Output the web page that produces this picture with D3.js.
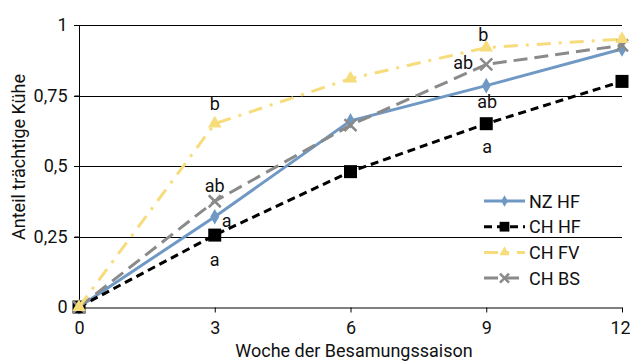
<!DOCTYPE html>
<html>
<head>
<meta charset="utf-8">
<script src="https://cdn.jsdelivr.net/npm/d3@7"></script>
<style>
  body { margin: 0; background: #fff; }
  svg { font-family: Roboto, "Noto Sans", sans-serif; }
</style>
</head>
<body>
<div id="root"></div>
<script>
const weeks = [0, 3, 6, 9, 12];
const yTicks = [0, 0.25, 0.5, 0.75, 1];
const yTickLabels = ["0", "0,25", "0,5", "0,75", "1"];

const nzHF = [0, 0.32, 0.66, 0.785, 0.915];
const chHF = [0, 0.255, 0.48, 0.65, 0.80];
const chFV = [0, 0.65, 0.81, 0.92, 0.95];
const chBS = [0, 0.375, 0.645, 0.86, 0.928];

const seriesNames = ["NZ HF", "CH HF", "CH FV", "CH BS"];

// Buchstaben (Signifikanz) an Woche 3 und 9
const letters = [
  { week: 3, value: 0.65, text: "b", dx: 0, dy: -14 },
  { week: 3, value: 0.375, text: "ab", dx: 0, dy: -9 },
  { week: 3, value: 0.32, text: "a", dx: 12, dy: 10 },
  { week: 3, value: 0.255, text: "a", dx: 0, dy: 31 },
  { week: 9, value: 0.92, text: "b", dx: -3, dy: -7 },
  { week: 9, value: 0.86, text: "ab", dx: -23, dy: 5 },
  { week: 9, value: 0.785, text: "ab", dx: 1, dy: 22 },
  { week: 9, value: 0.65, text: "a", dx: 1, dy: 29 }
];

const width = 630;
const height = 362;
const margin = { left: 79, right: 8, top: 25, bottom: 55 };
const fontSize = 18;

const svg = d3.select("#root")
  .append("svg")
    .attr("width", width)
    .attr("height", height);

const x = d3.scaleLinear()
  .domain([0, 12])
  .range([margin.left, width - margin.right]);

const y = d3.scaleLinear()
  .domain([0, 1])
  .range([height - margin.bottom, margin.top]);

// Gitterlinien
svg.append("g")
  .selectAll("line")
  .data(yTicks.slice(1))
  .enter()
  .append("line")
    .attr("x1", margin.left - 5)
    .attr("x2", x(12))
    .attr("y1", d => Math.round(y(d)) + 0.5)
    .attr("y2", d => Math.round(y(d)) + 0.5)
    .attr("stroke", "#000")
    .attr("stroke-width", 1);

// Achsen
const yAxis = svg.append("g")
  .attr("transform", `translate(${margin.left + 0.5},0)`)
  .call(d3.axisLeft(y).tickValues(yTicks).tickFormat((d, i) => yTickLabels[i]).tickSize(5).tickPadding(7));
yAxis.select(".domain").attr("d", `M0,${y(1)}V${y(0)}`);

const xAxis = svg.append("g")
  .attr("transform", `translate(0,${Math.round(y(0)) + 0.5})`)
  .call(d3.axisBottom(x).tickValues(weeks).tickSize(5).tickSizeOuter(0).tickPadding(9));
// "12" am rechten Rand etwas einrücken
xAxis.selectAll(".tick text").filter(d => d === 12).attr("dx", -2);

svg.selectAll(".tick text")
  .attr("font-size", fontSize)
  .attr("font-family", "Roboto, sans-serif")
  .attr("fill", "#111");
svg.selectAll(".domain, .tick line").attr("stroke", "#000");

// Achsentitel
svg.append("text")
  .text("Woche der Besamungssaison")
  .attr("x", 354)
  .attr("y", 357)
  .attr("text-anchor", "middle")
  .attr("font-size", fontSize)
  .attr("fill", "#111");
svg.append("text")
  .text("Anteil trächtige Kühe")
  .attr("transform", `translate(25, 157)rotate(-90)`)
  .attr("text-anchor", "middle")
  .attr("font-size", fontSize)
  .attr("fill", "#111");

const styles = [
  { values: nzHF, color: "#6f98c4", dash: null, marker: "diamond" },
  { values: chHF, color: "#000000", dash: "8,5", marker: "square" },
  { values: chFV, color: "#f7dc7c", dash: "14,8,3,8", marker: "triangle" },
  { values: chBS, color: "#8a8a8a", dash: "14,7", marker: "cross" }
];

const lineCreator = d3.line()
  .x((d, i) => x(weeks[i]))
  .y(d => y(d));

function drawMarker(g, type, cx, cy, color, scale) {
  const s = scale || 1;
  if (type === "diamond") {
    g.append("path")
      .attr("d", d3.symbol(d3.symbolDiamond, 70 * s * s)())
      .attr("transform", `translate(${cx},${cy})`)
      .attr("fill", color);
  } else if (type === "square") {
    const a = 13 * s;
    g.append("rect")
      .attr("x", cx - a / 2).attr("y", cy - a / 2)
      .attr("width", a).attr("height", a)
      .attr("fill", color);
  } else if (type === "triangle") {
    g.append("path")
      .attr("d", d3.symbol(d3.symbolTriangle, 80 * s * s)())
      .attr("transform", `translate(${cx},${cy})`)
      .attr("fill", color);
  } else if (type === "cross") {
    const a = 6 * s;
    g.append("path")
      .attr("d", `M${cx - a},${cy - a}L${cx + a},${cy + a}M${cx - a},${cy + a}L${cx + a},${cy - a}`)
      .attr("stroke", color)
      .attr("stroke-width", 2.5)
      .attr("fill", "none");
  }
}

// Linien + Marker (CH FV zuletzt, damit das Dreieck bei 0 oben liegt)
const drawOrder = [0, 1, 3, 2];
drawOrder.forEach(k => {
  const st = styles[k];
  const g = svg.append("g");
  g.append("path")
    .datum(st.values)
    .attr("d", lineCreator)
    .attr("fill", "none")
    .attr("stroke", st.color)
    .attr("stroke-width", 3)
    .attr("stroke-dasharray", st.dash);
  st.values.forEach((v, i) => drawMarker(g, st.marker, x(weeks[i]), y(v), st.color));
});

// Buchstaben
svg.append("g")
  .selectAll("text")
  .data(letters)
  .enter()
  .append("text")
    .text(d => d.text)
    .attr("x", d => x(d.week) + d.dx)
    .attr("y", d => y(d.value) + d.dy)
    .attr("text-anchor", "middle")
    .attr("font-size", fontSize)
    .attr("fill", "#111");

// Legende
const legend = svg.append("g").attr("transform", "translate(484, 201)");
styles.forEach((st, i) => {
  const g = legend.append("g").attr("transform", `translate(0, ${i * 25.7})`);
  g.append("line")
    .attr("x1", 0).attr("x2", 41)
    .attr("y1", 0).attr("y2", 0)
    .attr("stroke", st.color)
    .attr("stroke-width", 3)
    .attr("stroke-dasharray", st.dash);
  drawMarker(g, st.marker, 20.5, 0, st.color, 0.75);
  g.append("text")
    .text(seriesNames[i])
    .attr("x", 45)
    .attr("y", 6.5)
    .attr("font-size", fontSize)
    .attr("fill", "#111");
});
</script>
</body>
</html>
